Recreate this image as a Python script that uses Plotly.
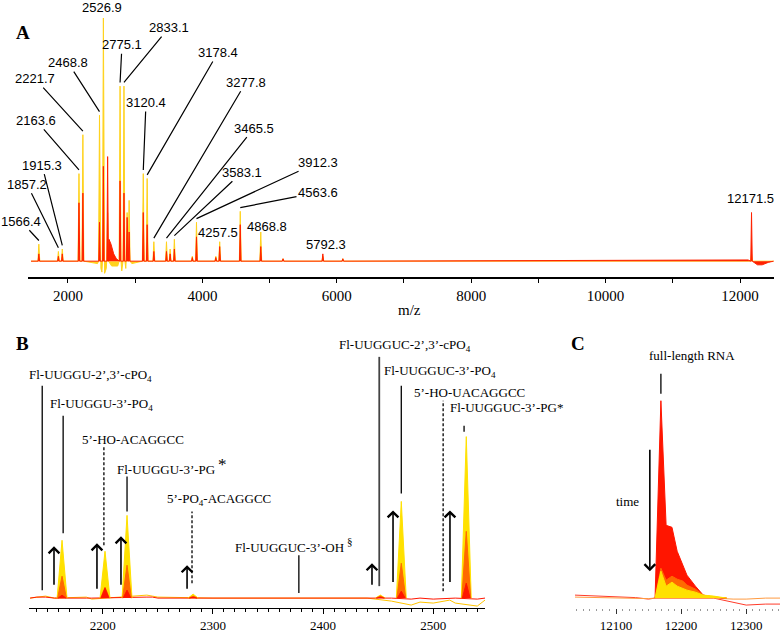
import plotly.graph_objects as go

W, H = 780, 633


def X(px):
    return px / W


def Y(py):
    return 1 - py / H


# ---------------- DATA ----------------
# Panel A : overview MALDI spectrum (two time points)
mz_A = [1566.4, 1857.2, 1915.3, 2163.6, 2221.7, 2468.8, 2526.9, 2590.0, 2775.1, 2833.1,
        2880.0, 2910.0, 3120.4, 3178.4, 3277.8, 3465.5, 3520.0, 3583.1, 3850.0, 3912.3,
        4200.0, 4257.5, 4563.6, 4868.8, 5200.0, 5792.3, 6090.0, 12171.5]
yellow_A = [7, 4, 5, 36, 52, 60, 100, 20, 72, 72,
            20, 25, 36, 34, 8, 8, 5, 9, 2, 16,
            2, 8, 20.5, 12, 1, 2, 1, 3]
red_A = [3, 2, 3, 24, 28, 16, 39, 43, 33, 28,
         18, 12, 20, 15, 4, 4, 3, 5, 1.5, 10,
         1.5, 6, 15, 6, 1, 3, 1, 20]
dip_mz_A = [2440, 2490, 2505, 2545, 2570, 2650, 2740, 2800, 2860, 2950]
dip_yellow_A = [-1, -3, -4.5, -5, -3, -2, -2, -4, -3, -1]
hump_mz_A = [2610, 2640, 2680, 2720, 12120, 12260, 12330, 12420]
hump_red_A = [9, 7, 3, 1, 0.5, -1.5, -1.5, -0.5]

labels_A = ["1566.4", "1857.2", "1915.3", "2163.6", "2221.7", "2468.8", "2526.9",
            "2775.1", "2833.1", "3120.4", "3178.4", "3277.8", "3465.5", "3583.1",
            "3912.3", "4563.6", "4257.5", "4868.8", "5792.3", "12171.5"]
label_mz_A = [1566.4, 1857.2, 1915.3, 2163.6, 2221.7, 2468.8, 2526.9,
              2775.1, 2833.1, 3120.4, 3178.4, 3277.8, 3465.5, 3583.1,
              3912.3, 4563.6, 4257.5, 4868.8, 5792.3, 12171.5]
label_top_A = [7, 4, 5, 36, 52, 60, 100, 72, 72, 36, 34, 8, 8, 9, 16, 20.5, 8, 12, 3, 20]
label_leader_A = [True, True, True, True, True, True, False, True, True, True, True,
                  True, True, True, True, True, False, False, False, False]

# Panel B : zoom 2130-2550
mz_B = [2163, 2202, 2222, 2282, 2452, 2471, 2530]
yellow_B = [58, 47, 83, 4, 3, 97, 162]
orange_B = [22, 11, 33, 2, 2, 35, 67]
red_B = [3, 10, 8, 1, 1, 7, 15]
base_mz_B = [2134, 2140, 2148, 2156, 2185, 2190, 2240, 2245, 2250, 2300, 2440, 2462,
             2480, 2488, 2500, 2515, 2520, 2540, 2547]
base_yellow_B = [0, 1, 2, 0, 1, -1, 3, 2, 1, 0, 0, -3, -7, -4, -5, -2, -5, -8, -2]
base_red_B = [0, 1, 1, 0, 0, 0, 1, 1, 0, 0, 0, 0, -1, 0, -1, 0, 0, -1, 0]

labels_B = ["Fl-UUGGU-2\u2019,3\u2019-cPO<sub>4</sub>",
            "Fl-UUGGU-3\u2019-PO<sub>4</sub>",
            "5\u2019-HO-ACAGGCC",
            "Fl-UUGGU-3\u2019-PG",
            "5\u2019-PO<sub>4</sub>-ACAGGCC",
            "Fl-UUGGUC-3\u2019-OH",
            "Fl-UUGGUC-2\u2019,3\u2019-cPO<sub>4</sub>",
            "Fl-UUGGUC-3\u2019-PO<sub>4</sub>",
            "5\u2019-HO-UACAGGCC",
            "Fl-UUGGUC-3\u2019-PG*"]
label_mz_B = [2145, 2164, 2201, 2222, 2281, 2378, 2451, 2471, 2509, 2528]
label_dashed_B = [False, False, True, False, True, False, False, False, True, False]
arrow_mz_B = [2155.7, 2194.7, 2216.5, 2276.5, 2444.4, 2463.5, 2515.2]

# Panel C : full-length RNA region
peak_mz_C = [12160, 12169, 12177, 12186, 12194, 12203, 12209, 12222, 12234, 12250, 12270]
red_C = [0, 198, 73, 71, 47, 32, 23, 12, 3, 1, 0]
orange_C = [0, 30, 18, 22, 19, 17, 13, 9, 3, 1, 0]
yellow_C = [0, 27, 12, 16, 12, 10, 8, 6, 3, 2, 0]
base_mz_C = [12037, 12070, 12100, 12130, 12150, 12160, 12250, 12280, 12300, 12330, 12352]
base_red_C = [3, 2, 1.5, 0.5, -1, 0, 0, -4, -7, -6, -6]
base_orange_C = [1, 0.5, 0, -0.5, -0.5, 0, 0, -1, -1, 0, 0]

# ---------------- helpers ----------------
YEL, ORA, RED = "#FFE100", "#FF6A00", "#FF1500"
YEL_A, RED_A = "#FFD21E", "#FF2200"
SERIF = "Liberation Serif, Times New Roman, serif"
SANS = "Liberation Sans, Arial, sans-serif"


def spectrum(mz, h, hw, x0, x1, extra_mz=(), extra_h=()):
    pts = [(x0, 0.0), (x1, 0.0)]
    for m, v in zip(mz, h):
        pts += [(m - hw, 0.0), (m, v), (m + hw, 0.0)]
    pts += list(zip(extra_mz, extra_h))
    pts.sort()
    return [p[0] for p in pts], [p[1] for p in pts]


def peaks_only(mz, h, hw):
    xs, ys = [], []
    for m, v in zip(mz, h):
        xs += [m - hw, m, m + hw, None]
        ys += [0, v, 0, None]
    return xs, ys


fig = go.Figure()

# Panel A
xa, ya = spectrum(mz_A, yellow_A, 14, 1450, 12500, dip_mz_A, dip_yellow_A)
fig.add_trace(go.Scatter(x=xa, y=ya, mode="lines", line=dict(color=YEL_A, width=1),
                         fill="tozeroy", fillcolor=YEL_A, xaxis="x", yaxis="y", hoverinfo="skip"))
xa, ya = spectrum(mz_A, red_A, 11, 1450, 12500, hump_mz_A, hump_red_A)
fig.add_trace(go.Scatter(x=xa, y=ya, mode="lines", line=dict(color=RED_A, width=1),
                         fill="tozeroy", fillcolor=RED_A, xaxis="x", yaxis="y", hoverinfo="skip"))

# Panel B : baseline lines then filled peaks
fig.add_trace(go.Scatter(x=base_mz_B, y=base_yellow_B, mode="lines", line=dict(color="#FFC400", width=1),
                         xaxis="x2", yaxis="y2", hoverinfo="skip"))
fig.add_trace(go.Scatter(x=base_mz_B, y=base_red_B, mode="lines", line=dict(color=RED, width=1),
                         xaxis="x2", yaxis="y2", hoverinfo="skip"))
for vals, col, hw in [(yellow_B, YEL, 4.5), (orange_B, ORA, 4), (red_B, RED, 3.5)]:
    xb, yb = peaks_only(mz_B, vals, hw)
    fig.add_trace(go.Scatter(x=xb, y=yb, mode="lines", line=dict(color=col, width=1),
                             fill="toself", fillcolor=col, xaxis="x2", yaxis="y2", hoverinfo="skip"))

# Panel C
fig.add_trace(go.Scatter(x=base_mz_C, y=base_red_C, mode="lines", line=dict(color="#FF3B2A", width=1),
                         xaxis="x3", yaxis="y3", hoverinfo="skip"))
fig.add_trace(go.Scatter(x=base_mz_C, y=base_orange_C, mode="lines", line=dict(color="#FF9A40", width=1),
                         xaxis="x3", yaxis="y3", hoverinfo="skip"))
for vals, col in [(red_C, RED), (orange_C, ORA), (yellow_C, YEL)]:
    fig.add_trace(go.Scatter(x=peak_mz_C, y=vals, mode="lines", line=dict(color=col, width=1),
                             fill="toself", fillcolor=col, xaxis="x3", yaxis="y3", hoverinfo="skip"))

# ---------------- layout geometry (pixels) ----------------
A_L, A_R, A_T, A_B = 28, 774, 0, 278
A_X = [1405, 12506]
A_Y = [-6.56, 107.4]
BC_AXIS, BC_TOP, BC_BASE = 610, 330, 600   # pixel rows of B/C axis, top, baseline


def a_px(mz):
    return A_L + (mz - A_X[0]) / (A_X[1] - A_X[0]) * (A_R - A_L)


def a_py(v):
    return A_B - (v - A_Y[0]) / (A_Y[1] - A_Y[0]) * (A_B - A_T)


label_pos_A = [(21, 222), (27, 185), (42, 166), (36, 121), (35, 79), (68, 63), (102, 8),
               (122, 45), (169, 28), (146, 103), (218, 53), (246, 83), (254, 129), (242, 173),
               (318, 163), (318, 193), (218, 233), (267, 227), (326, 245), (750, 199)]

ann = []
for txt, m, top, lead, (tx, ty) in zip(labels_A, label_mz_A, label_top_A, label_leader_A, label_pos_A):
    if lead:
        ann.append(dict(x=m, y=top + 1.5, xref="x", yref="y", text=txt, showarrow=True,
                        arrowhead=0, arrowwidth=1.2, arrowcolor="black",
                        ax=tx - a_px(m), ay=ty - a_py(top + 1.5), standoff=0,
                        font=dict(family=SANS, size=13, color="black")))
    else:
        ann.append(dict(x=X(tx), y=Y(ty), xref="paper", yref="paper", text=txt,
                        showarrow=False, xanchor="center", yanchor="middle",
                        font=dict(family=SANS, size=13, color="black")))

# panel letters and titles
for t, (px, py) in zip(["<b>A</b>", "<b>B</b>", "<b>C</b>"], [(23, 33), (22, 345), (578, 345)]):
    ann.append(dict(x=X(px), y=Y(py), xref="paper", yref="paper", text=t, showarrow=False,
                    xanchor="center", yanchor="middle", font=dict(family=SERIF, size=19, color="black")))
ann.append(dict(x=X(409), y=Y(311), xref="paper", yref="paper", text="m/z", showarrow=False,
                xanchor="center", yanchor="middle", font=dict(family=SERIF, size=15, color="black")))

# panel B labels
label_pos_B = [(27, 377), (48, 406), (80, 441), (115, 471), (165, 501), (233, 549),
               (337, 347), (382, 373), (412, 394), (448, 409)]
for txt, (px, py) in zip(labels_B, label_pos_B):
    ann.append(dict(x=X(px), y=Y(py), xref="paper", yref="paper", text=txt, showarrow=False,
                    xanchor="left", yanchor="middle", font=dict(family=SERIF, size=13, color="black")))
ann.append(dict(x=X(216), y=Y(466), xref="paper", yref="paper", text="*", showarrow=False,
                xanchor="left", yanchor="middle", font=dict(family=SERIF, size=17, color="black")))
ann.append(dict(x=X(345), y=Y(543), xref="paper", yref="paper", text="\u00a7", showarrow=False,
                xanchor="left", yanchor="middle", font=dict(family=SERIF, size=11, color="black")))

# panel B arrows
arrow_tip_B = [548, 545, 538, 567, 565, 512, 512]
arrow_tail_B = [588, 592, 588, 592, 588, 585, 585]
for m, tip, tail in zip(arrow_mz_B, arrow_tip_B, arrow_tail_B):
    ann.append(dict(x=m, y=Y(tip), xref="x2", yref="paper", text="", showarrow=True,
                    arrowhead=4, arrowsize=1.3, arrowwidth=1.6, arrowcolor="black",
                    ax=0, ay=tail - tip, standoff=0))

# panel C texts / arrow
ann.append(dict(x=X(692), y=Y(357), xref="paper", yref="paper", text="full-length RNA",
                showarrow=False, xanchor="center", yanchor="middle",
                font=dict(family=SERIF, size=13, color="black")))
ann.append(dict(x=X(627), y=Y(503), xref="paper", yref="paper", text="time",
                showarrow=False, xanchor="center", yanchor="middle",
                font=dict(family=SERIF, size=13, color="black")))
ann.append(dict(x=12152, y=Y(573), xref="x3", yref="paper", text="", showarrow=True,
                arrowhead=4, arrowsize=1.3, arrowwidth=1.6, arrowcolor="black",
                ax=0, ay=-(573 - 450), standoff=0))

# panel B leader lines
line_top_B = [387, 417, 447, 478, 513, 557, 358, 387, 402, 427]
line_bot_B = [592, 535, 547, 513, 585, 595, 588, 495, 593, 433]
shapes = []
for m, dsh, t, b in zip(label_mz_B, label_dashed_B, line_top_B, line_bot_B):
    col = "#444444" if m == 2451 else "black"
    wid = 1.8 if m == 2451 else 1.3
    shapes.append(dict(type="line", xref="x2", yref="paper", x0=m, x1=m, y0=Y(b), y1=Y(t),
                       line=dict(color=col, width=wid, dash="3px,2px" if dsh else "solid")))
shapes.append(dict(type="line", xref="x3", yref="paper", x0=12169, x1=12169, y0=Y(395), y1=Y(375),
                   line=dict(color="black", width=1.3)))

bc_range = [-(BC_AXIS - BC_BASE), BC_BASE - BC_TOP]

fig.update_layout(
    width=W, height=H, margin=dict(l=0, r=0, t=0, b=0),
    paper_bgcolor="white", plot_bgcolor="white", showlegend=False,
    annotations=ann, shapes=shapes,
    xaxis=dict(domain=[X(A_L), X(A_R)], range=A_X, anchor="y", showline=True, linecolor="black",
               linewidth=1.5, ticks="outside", ticklen=4, tickcolor="black", tick0=0, dtick=2000,
               tickformat="d",
               minor=dict(dtick=1000, ticks="outside", ticklen=4, tickcolor="black"),
               showgrid=False, zeroline=False,
               tickfont=dict(family=SERIF, size=15, color="black")),
    yaxis=dict(domain=[Y(A_B), 1], range=A_Y, visible=False, showgrid=False, zeroline=False),
    xaxis2=dict(domain=[X(29), X(485)], range=[2133, 2547], anchor="y2", showline=True,
                linecolor="black", linewidth=1, ticks="outside", ticklen=5, tickcolor="black",
                tick0=2000, dtick=100, tickformat="d",
                minor=dict(dtick=10, ticks="outside", ticklen=3, tickcolor="black"),
                showgrid=False, zeroline=False,
                tickfont=dict(family=SERIF, size=13, color="black")),
    yaxis2=dict(domain=[Y(BC_AXIS), Y(BC_TOP)], range=bc_range, visible=False),
    xaxis3=dict(domain=[X(575), 1], range=[12037, 12352], anchor="y3", showline=False,
                ticks="outside", ticklen=5, tickcolor="#333333", tick0=12000, dtick=100,
                tickformat="d",
                minor=dict(dtick=10, ticks="outside", ticklen=2, tickcolor="#999999"),
                showgrid=False, zeroline=False,
                tickfont=dict(family=SERIF, size=13, color="black")),
    yaxis3=dict(domain=[Y(BC_AXIS), Y(BC_TOP)], range=bc_range, visible=False),
)

fig.write_html("out.html", config={"displayModeBar": False},
               post_script="document.body.style.margin='0';document.body.style.overflow='hidden';")
